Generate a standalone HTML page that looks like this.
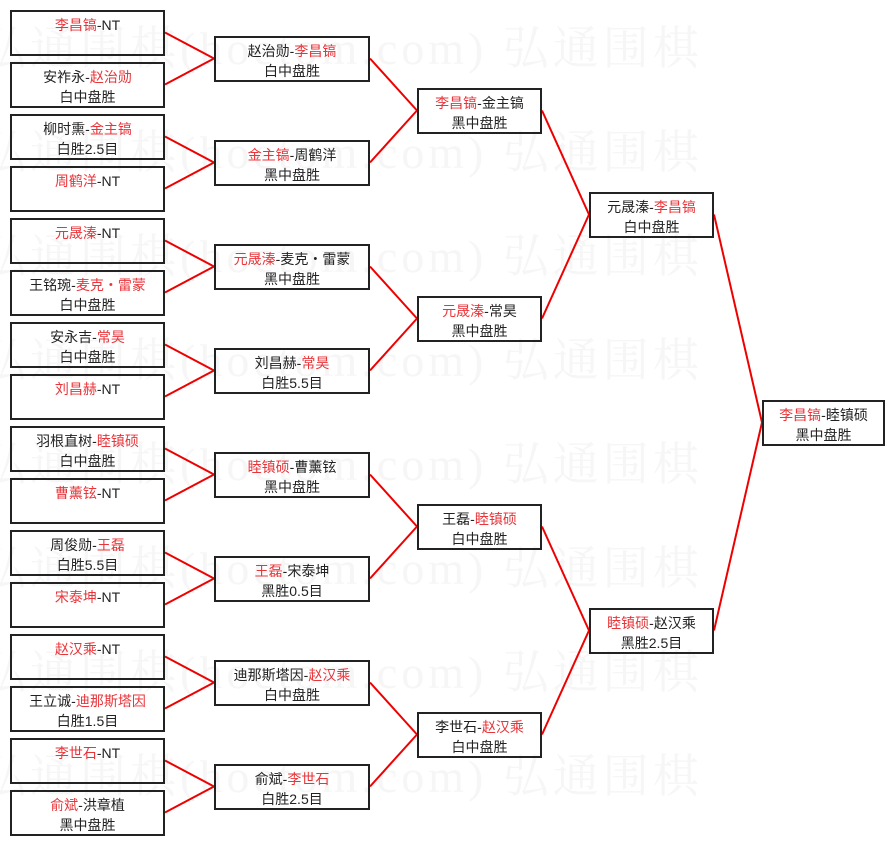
<!DOCTYPE html>
<html><head><meta charset="utf-8"><style>
html,body{margin:0;padding:0;background:#fff;}
#c{position:relative;width:895px;height:845px;overflow:hidden;font-family:"Liberation Sans","Noto Sans CJK SC",sans-serif;font-size:14px;color:#222;}
.wm{position:absolute;left:0;font-family:"Liberation Serif","Noto Serif CJK SC",serif;font-size:46px;color:#f6f6f6;white-space:nowrap;letter-spacing:4px;}
.b{position:absolute;box-sizing:border-box;border:2px solid #222;height:46px;text-align:center;line-height:20px;padding-top:3px;background:transparent;}
.r{color:#e8353a;}
svg{position:absolute;left:0;top:0;}
</style></head><body><div id="c">
<div class="wm" style="top:12px;left:-20px">弘通围棋(hoetom.com) 弘通围棋</div>
<div class="wm" style="top:116px;left:-20px">弘通围棋(hoetom.com) 弘通围棋</div>
<div class="wm" style="top:220px;left:-20px">弘通围棋(hoetom.com) 弘通围棋</div>
<div class="wm" style="top:324px;left:-20px">弘通围棋(hoetom.com) 弘通围棋</div>
<div class="wm" style="top:428px;left:-20px">弘通围棋(hoetom.com) 弘通围棋</div>
<div class="wm" style="top:532px;left:-20px">弘通围棋(hoetom.com) 弘通围棋</div>
<div class="wm" style="top:636px;left:-20px">弘通围棋(hoetom.com) 弘通围棋</div>
<div class="wm" style="top:740px;left:-20px">弘通围棋(hoetom.com) 弘通围棋</div>
<svg width="895" height="845" stroke="#e00" stroke-width="2" fill="none">
<line x1="165" y1="32.5" x2="214" y2="58.5"/><line x1="165" y1="84.5" x2="214" y2="58.5"/>
<line x1="165" y1="136.5" x2="214" y2="162.5"/><line x1="165" y1="188.5" x2="214" y2="162.5"/>
<line x1="165" y1="240.5" x2="214" y2="266.5"/><line x1="165" y1="292.5" x2="214" y2="266.5"/>
<line x1="165" y1="344.5" x2="214" y2="370.5"/><line x1="165" y1="396.5" x2="214" y2="370.5"/>
<line x1="165" y1="448.5" x2="214" y2="474.5"/><line x1="165" y1="500.5" x2="214" y2="474.5"/>
<line x1="165" y1="552.5" x2="214" y2="578.5"/><line x1="165" y1="604.5" x2="214" y2="578.5"/>
<line x1="165" y1="656.5" x2="214" y2="682.5"/><line x1="165" y1="708.5" x2="214" y2="682.5"/>
<line x1="165" y1="760.5" x2="214" y2="786.5"/><line x1="165" y1="812.5" x2="214" y2="786.5"/>
<line x1="370" y1="58.5" x2="417" y2="110.5"/><line x1="370" y1="162.5" x2="417" y2="110.5"/>
<line x1="370" y1="266.5" x2="417" y2="318.5"/><line x1="370" y1="370.5" x2="417" y2="318.5"/>
<line x1="370" y1="474.5" x2="417" y2="526.5"/><line x1="370" y1="578.5" x2="417" y2="526.5"/>
<line x1="370" y1="682.5" x2="417" y2="734.5"/><line x1="370" y1="786.5" x2="417" y2="734.5"/>
<line x1="542" y1="110.5" x2="589" y2="214.5"/><line x1="542" y1="318.5" x2="589" y2="214.5"/>
<line x1="542" y1="526.5" x2="589" y2="630.5"/><line x1="542" y1="734.5" x2="589" y2="630.5"/>
<line x1="714" y1="214.5" x2="762" y2="422.5"/><line x1="714" y1="630.5" x2="762" y2="422.5"/>
</svg>
<div class="b" style="left:10px;top:10px;width:155px"><span class="r">李昌镐</span>-NT</div>
<div class="b" style="left:10px;top:62px;width:155px">安祚永-<span class="r">赵治勋</span><br>白中盘胜</div>
<div class="b" style="left:10px;top:114px;width:155px">柳时熏-<span class="r">金主镐</span><br>白胜2.5目</div>
<div class="b" style="left:10px;top:166px;width:155px"><span class="r">周鹤洋</span>-NT</div>
<div class="b" style="left:10px;top:218px;width:155px"><span class="r">元晟溱</span>-NT</div>
<div class="b" style="left:10px;top:270px;width:155px">王铭琬-<span class="r">麦克・雷蒙</span><br>白中盘胜</div>
<div class="b" style="left:10px;top:322px;width:155px">安永吉-<span class="r">常昊</span><br>白中盘胜</div>
<div class="b" style="left:10px;top:374px;width:155px"><span class="r">刘昌赫</span>-NT</div>
<div class="b" style="left:10px;top:426px;width:155px">羽根直树-<span class="r">睦镇硕</span><br>白中盘胜</div>
<div class="b" style="left:10px;top:478px;width:155px"><span class="r">曹薰铉</span>-NT</div>
<div class="b" style="left:10px;top:530px;width:155px">周俊勋-<span class="r">王磊</span><br>白胜5.5目</div>
<div class="b" style="left:10px;top:582px;width:155px"><span class="r">宋泰坤</span>-NT</div>
<div class="b" style="left:10px;top:634px;width:155px"><span class="r">赵汉乘</span>-NT</div>
<div class="b" style="left:10px;top:686px;width:155px">王立诚-<span class="r">迪那斯塔因</span><br>白胜1.5目</div>
<div class="b" style="left:10px;top:738px;width:155px"><span class="r">李世石</span>-NT</div>
<div class="b" style="left:10px;top:790px;width:155px"><span class="r">俞斌</span>-洪章植<br>黑中盘胜</div>
<div class="b" style="left:214px;top:36px;width:156px">赵治勋-<span class="r">李昌镐</span><br>白中盘胜</div>
<div class="b" style="left:214px;top:140px;width:156px"><span class="r">金主镐</span>-周鹤洋<br>黑中盘胜</div>
<div class="b" style="left:214px;top:244px;width:156px"><span class="r">元晟溱</span>-麦克・雷蒙<br>黑中盘胜</div>
<div class="b" style="left:214px;top:348px;width:156px">刘昌赫-<span class="r">常昊</span><br>白胜5.5目</div>
<div class="b" style="left:214px;top:452px;width:156px"><span class="r">睦镇硕</span>-曹薰铉<br>黑中盘胜</div>
<div class="b" style="left:214px;top:556px;width:156px"><span class="r">王磊</span>-宋泰坤<br>黑胜0.5目</div>
<div class="b" style="left:214px;top:660px;width:156px">迪那斯塔因-<span class="r">赵汉乘</span><br>白中盘胜</div>
<div class="b" style="left:214px;top:764px;width:156px">俞斌-<span class="r">李世石</span><br>白胜2.5目</div>
<div class="b" style="left:417px;top:88px;width:125px"><span class="r">李昌镐</span>-金主镐<br>黑中盘胜</div>
<div class="b" style="left:417px;top:296px;width:125px"><span class="r">元晟溱</span>-常昊<br>黑中盘胜</div>
<div class="b" style="left:417px;top:504px;width:125px">王磊-<span class="r">睦镇硕</span><br>白中盘胜</div>
<div class="b" style="left:417px;top:712px;width:125px">李世石-<span class="r">赵汉乘</span><br>白中盘胜</div>
<div class="b" style="left:589px;top:192px;width:125px">元晟溱-<span class="r">李昌镐</span><br>白中盘胜</div>
<div class="b" style="left:589px;top:608px;width:125px"><span class="r">睦镇硕</span>-赵汉乘<br>黑胜2.5目</div>
<div class="b" style="left:762px;top:400px;width:123px"><span class="r">李昌镐</span>-睦镇硕<br>黑中盘胜</div>
</div></body></html>
